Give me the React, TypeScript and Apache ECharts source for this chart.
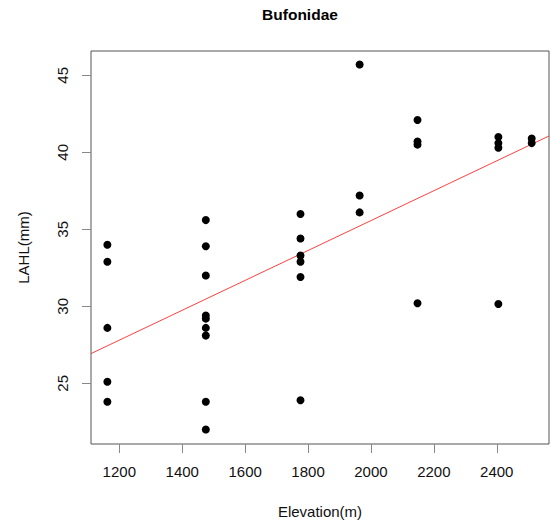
import React, { useEffect, useRef } from "react";
import * as echarts from "echarts";

const titleText = "Bufonidae";
const xName = "Elevation(m)";
const yName = "LAHL(mm)";
const xTicks = [1200, 1400, 1600, 1800, 2000, 2200, 2400];
const yTicks = [25, 30, 35, 40, 45];
const xRange = [1110, 2566];
const yRange = [21.06, 46.58];

const elevation = [
  1162, 1162, 1162, 1162, 1162,
  1475, 1475, 1475, 1475, 1475, 1475, 1475, 1475, 1475,
  1776, 1776, 1776, 1776, 1776, 1776,
  1964, 1964, 1964,
  2148, 2148, 2148, 2148,
  2405, 2405, 2405, 2405,
  2511, 2511,
];
const lahl = [
  34.0, 32.9, 28.6, 25.1, 23.8,
  35.6, 33.9, 32.0, 29.4, 29.2, 28.6, 28.1, 23.8, 22.0,
  36.0, 34.4, 33.3, 32.9, 31.9, 23.9,
  45.7, 37.2, 36.1,
  42.1, 40.7, 40.5, 30.2,
  41.0, 40.6, 40.3, 30.15,
  40.9, 40.6,
];
const fitX = [1110, 2566];
const fitY = [26.93, 41.06];

const FONT = "'Liberation Sans', Arial, sans-serif";

export default function App() {
  const ref = useRef<HTMLDivElement>(null);
  useEffect(() => {
    if (!ref.current) return;
    const chart = echarts.init(ref.current, undefined, { renderer: "svg" });
    chart.setOption({
      animation: false,
      backgroundColor: "#ffffff",
      grid: {
        left: 91,
        top: 51,
        right: 6,
        bottom: 84,
        show: true,
        borderColor: "#555555",
        borderWidth: 1,
        backgroundColor: "transparent",
      },
      graphic: [
        {
          type: "text",
          x: 300,
          y: 14,
          style: {
            text: titleText,
            fontFamily: FONT,
            fontWeight: "bold",
            fontSize: 15.5,
            fill: "#000",
            textAlign: "center",
            textVerticalAlign: "middle",
          },
        },
      ],
      xAxis: {
        type: "value",
        min: xRange[0],
        max: xRange[1],
        name: xName,
        nameLocation: "middle",
        nameGap: 60,
        nameTextStyle: { fontFamily: FONT, fontSize: 15, color: "#111" },
        splitLine: { show: false },
        axisLine: { show: false },
        axisTick: {
          show: true,
          inside: false,
          length: 9,
          customValues: xTicks,
          lineStyle: { color: "#888888" },
        },
        axisLabel: {
          customValues: xTicks,
          formatter: (v: number) => String(v),
          margin: 20,
          fontFamily: FONT,
          fontSize: 15,
          color: "#111",
        },
      },
      yAxis: {
        type: "value",
        min: yRange[0],
        max: yRange[1],
        name: yName,
        nameLocation: "middle",
        nameGap: 60,
        nameRotate: 90,
        nameTextStyle: { fontFamily: FONT, fontSize: 15, color: "#111" },
        splitLine: { show: false },
        axisLine: { show: false },
        axisTick: {
          show: true,
          inside: false,
          length: 9,
          customValues: yTicks,
          lineStyle: { color: "#888888" },
        },
        axisLabel: {
          customValues: yTicks,
          formatter: (v: number) => String(v),
          rotate: 90,
          margin: 21,
          fontFamily: FONT,
          fontSize: 15,
          color: "#111",
        },
      },
      series: [
        {
          type: "line",
          data: fitX.map((x, i) => [x, fitY[i]]),
          showSymbol: false,
          symbol: "none",
          lineStyle: { color: "#ff2a2a", width: 0.9 },
          silent: true,
          clip: true,
          z: 1,
        },
        {
          type: "scatter",
          data: elevation.map((x, i) => [x, lahl[i]]),
          symbol: "circle",
          symbolSize: 8,
          itemStyle: { color: "#000000", opacity: 1 },
          z: 2,
        },
      ],
    });
    return () => chart.dispose();
  }, []);
  return (
    <div
      ref={ref}
      style={{ position: "fixed", left: 0, top: 0, width: 555, height: 528 }}
    />
  );
}
